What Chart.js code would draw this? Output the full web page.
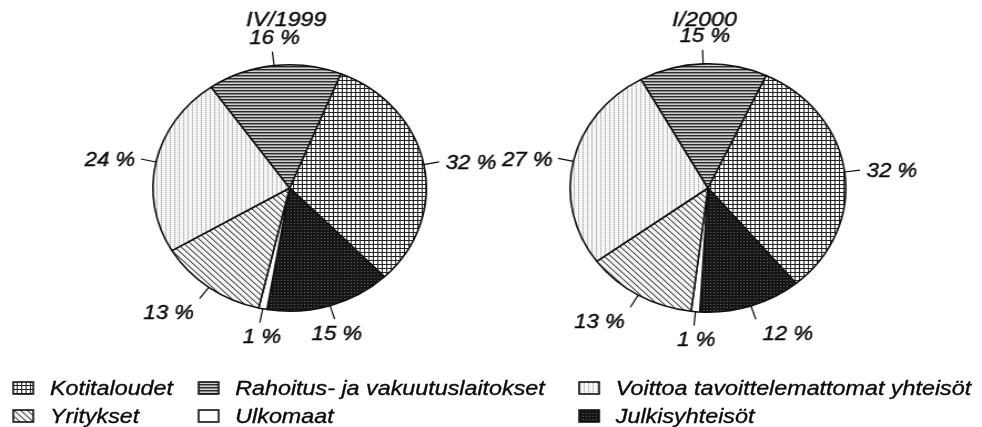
<!DOCTYPE html>
<html>
<head>
<meta charset="utf-8">
<script src="https://cdn.jsdelivr.net/npm/chart.js@4.4.1/dist/chart.umd.min.js"></script>
<style>
html, body { margin: 0; padding: 0; background: #fff; overflow: hidden; }
#wrap { position: relative; width: 885px; height: 427px; transform: scaleX(1.1096); transform-origin: 0 0; }
#wrap canvas.pie { position: absolute; left: 0; top: 0; }
.sw { position: absolute; }
.lt { position: absolute; font: italic 21px "Liberation Sans", Arial, sans-serif; line-height: 21px; color: #0a0a0a;
      -webkit-text-stroke: 0.35px #0a0a0a; white-space: nowrap; }
</style>
</head>
<body>
<div id="wrap">
  <canvas id="pie1" class="pie" width="885" height="427"></canvas>
  <canvas id="pie2" class="pie" width="885" height="427"></canvas>
</div>
<script>
const categories = ['Kotitaloudet', 'Julkisyhteisöt', 'Ulkomaat', 'Yritykset',
  'Voittoa tavoittelemattomat yhteisöt', 'Rahoitus- ja vakuutuslaitokset'];
const share1999 = [32, 15, 1, 13, 24, 16];
const share2000 = [32, 12, 1, 13, 27, 15];
const periods = ['IV/1999', 'I/2000'];
const legendRow1 = ['Kotitaloudet', 'Rahoitus- ja vakuutuslaitokset', 'Voittoa tavoittelemattomat yhteisöt'];
const legendRow2 = ['Yritykset', 'Ulkomaat', 'Julkisyhteisöt'];

// small b/w tiles to imitate the printed hatchings
function tile(w, h, bg, draw) {
  const c = document.createElement('canvas');
  c.width = w; c.height = h;
  const g = c.getContext('2d');
  g.fillStyle = bg;
  g.fillRect(0, 0, w, h);
  if (draw) draw(g);
  return c;
}
function px(g, x, y, col) { g.fillStyle = col; g.fillRect(x, y, 1, 1); }

const tiles = {
  'Kotitaloudet': tile(4, 4, '#fff', g => {
    g.fillStyle = '#222'; g.fillRect(0, 0, 4, 1); g.fillRect(0, 0, 1, 4);
  }),
  'Rahoitus- ja vakuutuslaitokset': tile(2, 3, '#d0d0d0', g => {
    g.fillStyle = '#2b2b2b'; g.fillRect(0, 0, 2, 1);
    g.fillStyle = '#888'; g.fillRect(0, 1, 2, 1);
  }),
  'Voittoa tavoittelemattomat yhteisöt': tile(4, 2, '#f6f6f6', g => {
    px(g, 1, 0, '#a8a8a8'); px(g, 1, 1, '#d8d8d8');
  }),
  'Yritykset': tile(6, 6, '#f4f4f4', g => {
    for (let i = 0; i < 6; i++) { px(g, i, i, '#4a4a4a'); px(g, (i + 1) % 6, i, '#b4b4b4'); }
  }),
  'Ulkomaat': tile(2, 2, '#fff'),
  'Julkisyhteisöt': tile(3, 3, '#161616', g => { px(g, 1, 1, '#5e5e5e'); })
};

const labelPlugin = {
  id: 'pieLabels',
  afterDatasetsDraw(chart, args, opts) {
    const ctx = chart.ctx;
    const meta = chart.getDatasetMeta(0);
    const values = chart.data.datasets[0].data;
    ctx.save();
    ctx.font = 'italic 20px "Liberation Sans", Arial, sans-serif';
    ctx.fillStyle = '#0a0a0a';
    ctx.strokeStyle = '#0a0a0a';
    let cx = 0;
    meta.data.forEach((arc, i) => {
      const p = arc.getProps(['x', 'y', 'startAngle', 'endAngle', 'outerRadius'], true);
      cx = p.x;
      const a = (p.startAngle + p.endAngle) / 2;
      const dx = Math.cos(a), dy = Math.sin(a);
      const r0 = p.outerRadius, r1 = r0 + 14;
      ctx.lineWidth = 1.2;
      ctx.beginPath();
      ctx.moveTo(p.x + dx * r0, p.y + dy * r0);
      ctx.lineTo(p.x + dx * r1, p.y + dy * r1);
      ctx.stroke();
      const ax = p.x + dx * r1, ay = p.y + dy * r1;
      const text = values[i] + ' %';
      const w = ctx.measureText(text).width, cap = 14.5;
      let left, base;
      if (dx > 0.3) left = ax + 6;
      else if (dx < -0.3) left = ax - 5 - w;
      else left = ax - w / 2 + 2;
      if (dy > 0.5) base = ay + 6 + cap;
      else if (dy < -0.5) base = ay - 8;
      else base = ay + cap / 2;
      ctx.lineWidth = 0.4;
      ctx.fillText(text, left, base);
      ctx.strokeText(text, left, base);
    });
    ctx.font = 'italic 21px "Liberation Sans", Arial, sans-serif';
    ctx.textAlign = 'center';
    ctx.fillText(opts.title, cx - 3, 26);
    ctx.strokeText(opts.title, cx - 3, 26);
    ctx.restore();
  }
};

function pieChart(id, shares, title, rotation, cx, cy, r) {
  const canvas = document.getElementById(id);
  const ctx = canvas.getContext('2d');
  return new Chart(canvas, {
    type: 'pie',
    data: {
      labels: categories,
      datasets: [{
        data: shares,
        backgroundColor: categories.map(c => ctx.createPattern(tiles[c], 'repeat')),
        borderColor: '#111',
        borderWidth: 1.6
      }]
    },
    options: {
      responsive: false,
      animation: false,
      devicePixelRatio: 1,
      events: [],
      rotation: rotation,
      layout: {
        padding: {
          left: cx - r - 1, right: canvas.width - cx - r - 1,
          top: cy - r - 1, bottom: canvas.height - cy - r - 1
        }
      },
      plugins: {
        legend: { display: false },
        tooltip: { enabled: false },
        pieLabels: { title: title }
      }
    },
    plugins: [labelPlugin]
  });
}

pieChart('pie1', share1999, periods[0], 22, 261, 188, 123);
pieChart('pie2', share2000, periods[1], 25, 638, 188, 124);

// legend, three columns
const wrap = document.getElementById('wrap');
const colSwatch = [11, 178, 521];
const colText = [45, 212, 555];
const rowTop = [377, 405];
[legendRow1, legendRow2].forEach((row, ri) => {
  row.forEach((name, ci) => {
    const sw = document.createElement('canvas');
    sw.className = 'sw';
    sw.width = 20; sw.height = 14;
    sw.style.left = colSwatch[ci] + 'px';
    sw.style.top = (rowTop[ri] + 4) + 'px';
    const g = sw.getContext('2d');
    g.fillStyle = g.createPattern(tiles[name], 'repeat');
    g.fillRect(1, 1, 18, 12);
    g.strokeStyle = '#111';
    g.lineWidth = 1.6;
    g.strokeRect(1, 1, 18, 12);
    wrap.appendChild(sw);
    const t = document.createElement('div');
    t.className = 'lt';
    t.textContent = name;
    t.style.left = colText[ci] + 'px';
    t.style.top = rowTop[ri] + 'px';
    wrap.appendChild(t);
  });
});
</script>
</body>
</html>
